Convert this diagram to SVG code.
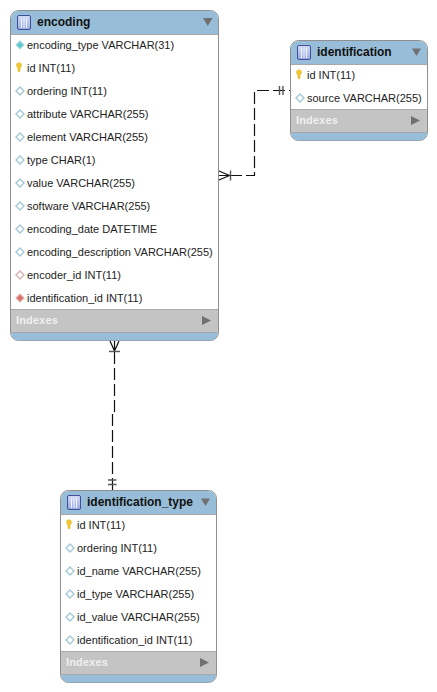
<svg xmlns="http://www.w3.org/2000/svg" width="437" height="692" viewBox="0 0 437 692">
<defs>
<linearGradient id="gTbl" x1="0" y1="0" x2="0" y2="1"><stop offset="0" stop-color="#d4dcf5"/><stop offset="1" stop-color="#98a9e0"/></linearGradient>
<g id="tbl"><rect x="0.500" y="0.500" width="13" height="14" rx="1.500" fill="url(#gTbl)" stroke="#3f4f9a"/><path d="M4.500 3V13M7 3V13M9.500 3V13" stroke="#f0f3fc" stroke-width="1" fill="none"/></g>
<g id="key"><path d="M-2.500 -2.800a2.500 2.500 0 0 1 5 0c0 1.500-1 2.200-1.400 3v2.700l-1.100 1.300-1.100-1.300v-2.700c-.4-.8-1.400-1.500-1.400-3z" fill="#f2c92e" stroke="#d6b02a" stroke-width=".5"/></g>
<path id="dEmpty" d="M0 -4L4 0L0 4L-4 0Z" fill="#fbfdfe" stroke="#a5c8d6" stroke-width="1.400"/>
<path id="dCyan" d="M0 -4L4 0L0 4L-4 0Z" fill="#5cc8cc" stroke="#a6dade" stroke-width="1.200"/>
<path id="dRose" d="M0 -4L4 0L0 4L-4 0Z" fill="#fff" stroke="#d8b0b0" stroke-width="1.400"/>
<path id="dRed" d="M0 -4L4 0L0 4L-4 0Z" fill="#d8706e" stroke="#e4aeac" stroke-width="1.200"/>
</defs>
<style>
text{font-family:"Liberation Sans",Arial,sans-serif}
.box{fill:#fff;stroke:#8f8f8f;stroke-width:1}
.hdr{fill:#98bdd8}
.idx{fill:#c4c4c4}
.sep{stroke:#a8a8a8;stroke-width:1;fill:none}
.t{font-size:12px;font-weight:bold;fill:#111}
.r{font-size:11px;fill:#222}
.i{font-size:11px;font-weight:bold;fill:#f0f0f0;letter-spacing:.15px}
.tri{fill:#707070}
.c{fill:none;stroke:#111;stroke-width:1.200}
.d{stroke-dasharray:12 4}
.b{fill:none;stroke:#555;stroke-width:1.400}
</style>
<rect width="437" height="692" fill="#fff"/>
<g id="connectors">
<path class="c d" d="M230 175.500H254.500V90.500H290"/>
<path class="c" d="M219 171L229.500 175.500L219 180M219 175.500H230"/>
<path class="b" d="M230.500 170.500V180.500"/>
<path class="b" d="M279.500 86V95M283 86V95"/>
<path class="c d" d="M114.500 352V414H112.500V490"/>
<path class="c" d="M110 341L114.500 351L119 341M114.500 341V352"/>
<path class="b" d="M109 351.500H120"/>
<path class="b" d="M108 480H116.500M108 484.500H116.500"/>
</g>
<g id="encoding">
<rect class="box" x="10.500" y="10.500" width="208" height="330" rx="8"/>
<path class="hdr" d="M11 34V18.500a7.500 7.500 0 0 1 7.500-7.500H210.500a7.500 7.500 0 0 1 7.500 7.500V34Z"/>
<path class="sep" d="M11 34.500H218"/>
<use href="#tbl" x="17" y="15"/>
<text class="t" x="37" y="26">encoding</text>
<path class="tri" d="M203 18H212.500L207.750 26Z"/>
<use href="#dCyan" x="20" y="45"/><text class="r" x="27" y="49">encoding_type VARCHAR(31)</text>
<use href="#key" x="19" y="68"/><text class="r" x="27" y="72">id INT(11)</text>
<use href="#dEmpty" x="20" y="91"/><text class="r" x="27" y="95">ordering INT(11)</text>
<use href="#dEmpty" x="20" y="114"/><text class="r" x="27" y="118">attribute VARCHAR(255)</text>
<use href="#dEmpty" x="20" y="137"/><text class="r" x="27" y="141">element VARCHAR(255)</text>
<use href="#dEmpty" x="20" y="160"/><text class="r" x="27" y="164">type CHAR(1)</text>
<use href="#dEmpty" x="20" y="183"/><text class="r" x="27" y="187">value VARCHAR(255)</text>
<use href="#dEmpty" x="20" y="206"/><text class="r" x="27" y="210">software VARCHAR(255)</text>
<use href="#dEmpty" x="20" y="229"/><text class="r" x="27" y="233">encoding_date DATETIME</text>
<use href="#dEmpty" x="20" y="252"/><text class="r" x="27" y="256">encoding_description VARCHAR(255)</text>
<use href="#dRose" x="20" y="275"/><text class="r" x="27" y="279">encoder_id INT(11)</text>
<use href="#dRed" x="20" y="298"/><text class="r" x="27" y="302">identification_id INT(11)</text>
<rect class="idx" x="11" y="310" width="207" height="22"/>
<path class="sep" d="M11 309.500H218M11 332.500H218"/>
<text class="i" x="16" y="324">Indexes</text>
<path class="tri" d="M202 316L211 320.500L202 325Z"/>
<path class="hdr" d="M11 333H218a7.500 7.500 0 0 1-7.500 7.500H18.500a7.500 7.500 0 0 1-7.500-7.500Z"/>
</g>
<g id="identification">
<rect class="box" x="290.500" y="40.500" width="137" height="100" rx="8"/>
<path class="hdr" d="M291 64V48.500a7.500 7.500 0 0 1 7.500-7.500H419.500a7.500 7.500 0 0 1 7.500 7.500V64Z"/>
<path class="sep" d="M291 64.500H427"/>
<use href="#tbl" x="297" y="45"/>
<text class="t" x="317" y="56">identification</text>
<path class="tri" d="M412 48.500H421L416.500 56Z"/>
<use href="#key" x="299" y="75"/><text class="r" x="307" y="79">id INT(11)</text>
<use href="#dEmpty" x="300" y="98"/><text class="r" x="307" y="102">source VARCHAR(255)</text>
<rect class="idx" x="291" y="110" width="136" height="22"/>
<path class="sep" d="M291 109.500H427M291 132.500H427"/>
<text class="i" x="296" y="124">Indexes</text>
<path class="tri" d="M411 116L420 120.500L411 125Z"/>
<path class="hdr" d="M291 133H427a7.500 7.500 0 0 1-7.500 7.500H298.500a7.500 7.500 0 0 1-7.500-7.500Z"/>
</g>
<g id="identification_type">
<rect class="box" x="60.500" y="490.500" width="156" height="192" rx="8"/>
<path class="hdr" d="M61 514V498.500a7.500 7.500 0 0 1 7.500-7.500H208.500a7.500 7.500 0 0 1 7.500 7.500V514Z"/>
<path class="sep" d="M61 514.500H216"/>
<use href="#tbl" x="67" y="495"/>
<text class="t" x="87" y="506">identification_type</text>
<path class="tri" d="M201 498.500H210L205.500 506Z"/>
<use href="#key" x="69" y="525"/><text class="r" x="77" y="529">id INT(11)</text>
<use href="#dEmpty" x="70" y="548"/><text class="r" x="77" y="552">ordering INT(11)</text>
<use href="#dEmpty" x="70" y="571"/><text class="r" x="77" y="575">id_name VARCHAR(255)</text>
<use href="#dEmpty" x="70" y="594"/><text class="r" x="77" y="598">id_type VARCHAR(255)</text>
<use href="#dEmpty" x="70" y="617"/><text class="r" x="77" y="621">id_value VARCHAR(255)</text>
<use href="#dEmpty" x="70" y="640"/><text class="r" x="77" y="644">identification_id INT(11)</text>
<rect class="idx" x="61" y="652" width="155" height="22"/>
<path class="sep" d="M61 651.500H216M61 674.500H216"/>
<text class="i" x="66" y="666">Indexes</text>
<path class="tri" d="M200 658L209 662.500L200 667Z"/>
<path class="hdr" d="M61 675H216a7.500 7.500 0 0 1-7.500 7.500H68.500a7.500 7.500 0 0 1-7.500-7.500Z"/>
</g>
</svg>
